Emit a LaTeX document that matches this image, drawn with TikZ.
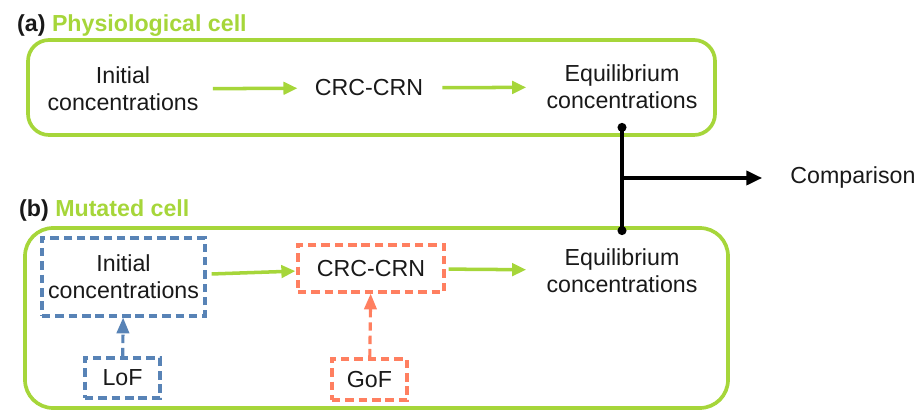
\documentclass[tikz,border=0pt]{standalone}
\usepackage{fontspec}
\setmainfont{Liberation Sans}
\usetikzlibrary{
  arrows.meta,
  positioning
}
\definecolor{cellgreen}{RGB}{166,214,58}
\definecolor{lof}{RGB}{88,131,182}
\definecolor{gof}{RGB}{255,127,96}

\begin{document}
\begin{tikzpicture}[
  every node/.style={font=\fontsize{13.2}{15.4}\selectfont, text=black!90},
  cell/.style={draw=cellgreen, line width=2.1pt, rounded corners=#1},
  txt/.style={align=center, inner sep=0pt},
  mutbox/.style={draw=#1, dash pattern=on 4.8pt off 2.8pt, line width=1.8pt,
                 align=center, inner sep=0pt},
  flow/.style={-{Triangle[length=8pt, width=7pt]}, line width=2pt, cellgreen},
  hit/.style={-{Triangle[length=9pt, width=7pt]}, dash pattern=on 4.8pt off 2.8pt,
              line width=1.8pt, #1},
  title/.style={anchor=base west, font=\fontsize{13.2}{15.4}\selectfont\bfseries},
  >=Stealth
]
\useasboundingbox (0,0) rectangle (18.36,8.2);

% (a) physiological cell
\node[title] (tag_a) at (0.22, 7.56) {(a) \textcolor{cellgreen}{Physiological cell}};
\node[cell=12pt, minimum width=13.74cm, minimum height=1.9cm] (physio) at (7.43, 6.45) {};

\node[txt] (init_a) at (2.46, 6.42) {Initial\\concentrations};
\node[txt] (crn_a) at (7.38, 6.44) {CRC-CRN};
\node[txt] (eq_a) at (12.44, 6.46) {Equilibrium\\concentrations};

% (b) mutated cell
\node[title] (tag_b) at (0.26, 3.86) {(b) \textcolor{cellgreen}{Mutated cell}};
\node[cell=16pt, minimum width=14.06cm, minimum height=3.6cm] (mutated) at (7.53, 1.84) {};

\node[mutbox=lof, minimum width=3.26cm, minimum height=1.56cm] (init_b) at (2.47, 2.66)
  {Initial\\concentrations};
\node[mutbox=gof, minimum width=2.92cm, minimum height=0.94cm] (crn_b) at (7.42, 2.83) {CRC-CRN};
\node[txt] (eq_b) at (12.44, 2.79) {Equilibrium\\concentrations};

\node[mutbox=lof, minimum width=1.5cm, minimum height=0.8cm] (lofbox) at (2.45, 0.64) {LoF};
\node[mutbox=gof, minimum width=1.5cm, minimum height=0.82cm] (gofbox) at (7.39, 0.61) {GoF};

% comparison
\coordinate (dot_a) at (12.44, 5.74);
\coordinate (dot_b) at (12.44, 3.5);
\coordinate (junction) at (12.44, 4.64);
\node[txt] (cmp) at (17.06, 4.64) {Comparison};

% Arrows
\draw[flow, shorten <=0.28cm, shorten >=0.34cm] (init_a) -- (crn_a);
\draw[flow, shorten <=0.38cm, shorten >=0.4cm] (crn_a) -- (eq_a);

\draw[flow, shorten <=0.1cm, shorten >=0.02cm] (init_b) -- (crn_b);
\draw[flow, shorten <=0.06cm, shorten >=0.4cm] (crn_b) -- (eq_b);

\draw[hit=lof] (lofbox) -- (init_b);
\draw[hit=gof] (gofbox) -- (crn_b);

\draw[{Circle[length=5pt]}-{Circle[length=5pt]}, line width=2pt] (dot_a) -- (dot_b);
\draw[-{Triangle[length=9pt, width=8pt]}, line width=2pt, shorten >=0.56cm]
  (junction) -- (cmp);

\end{tikzpicture}
\end{document}
